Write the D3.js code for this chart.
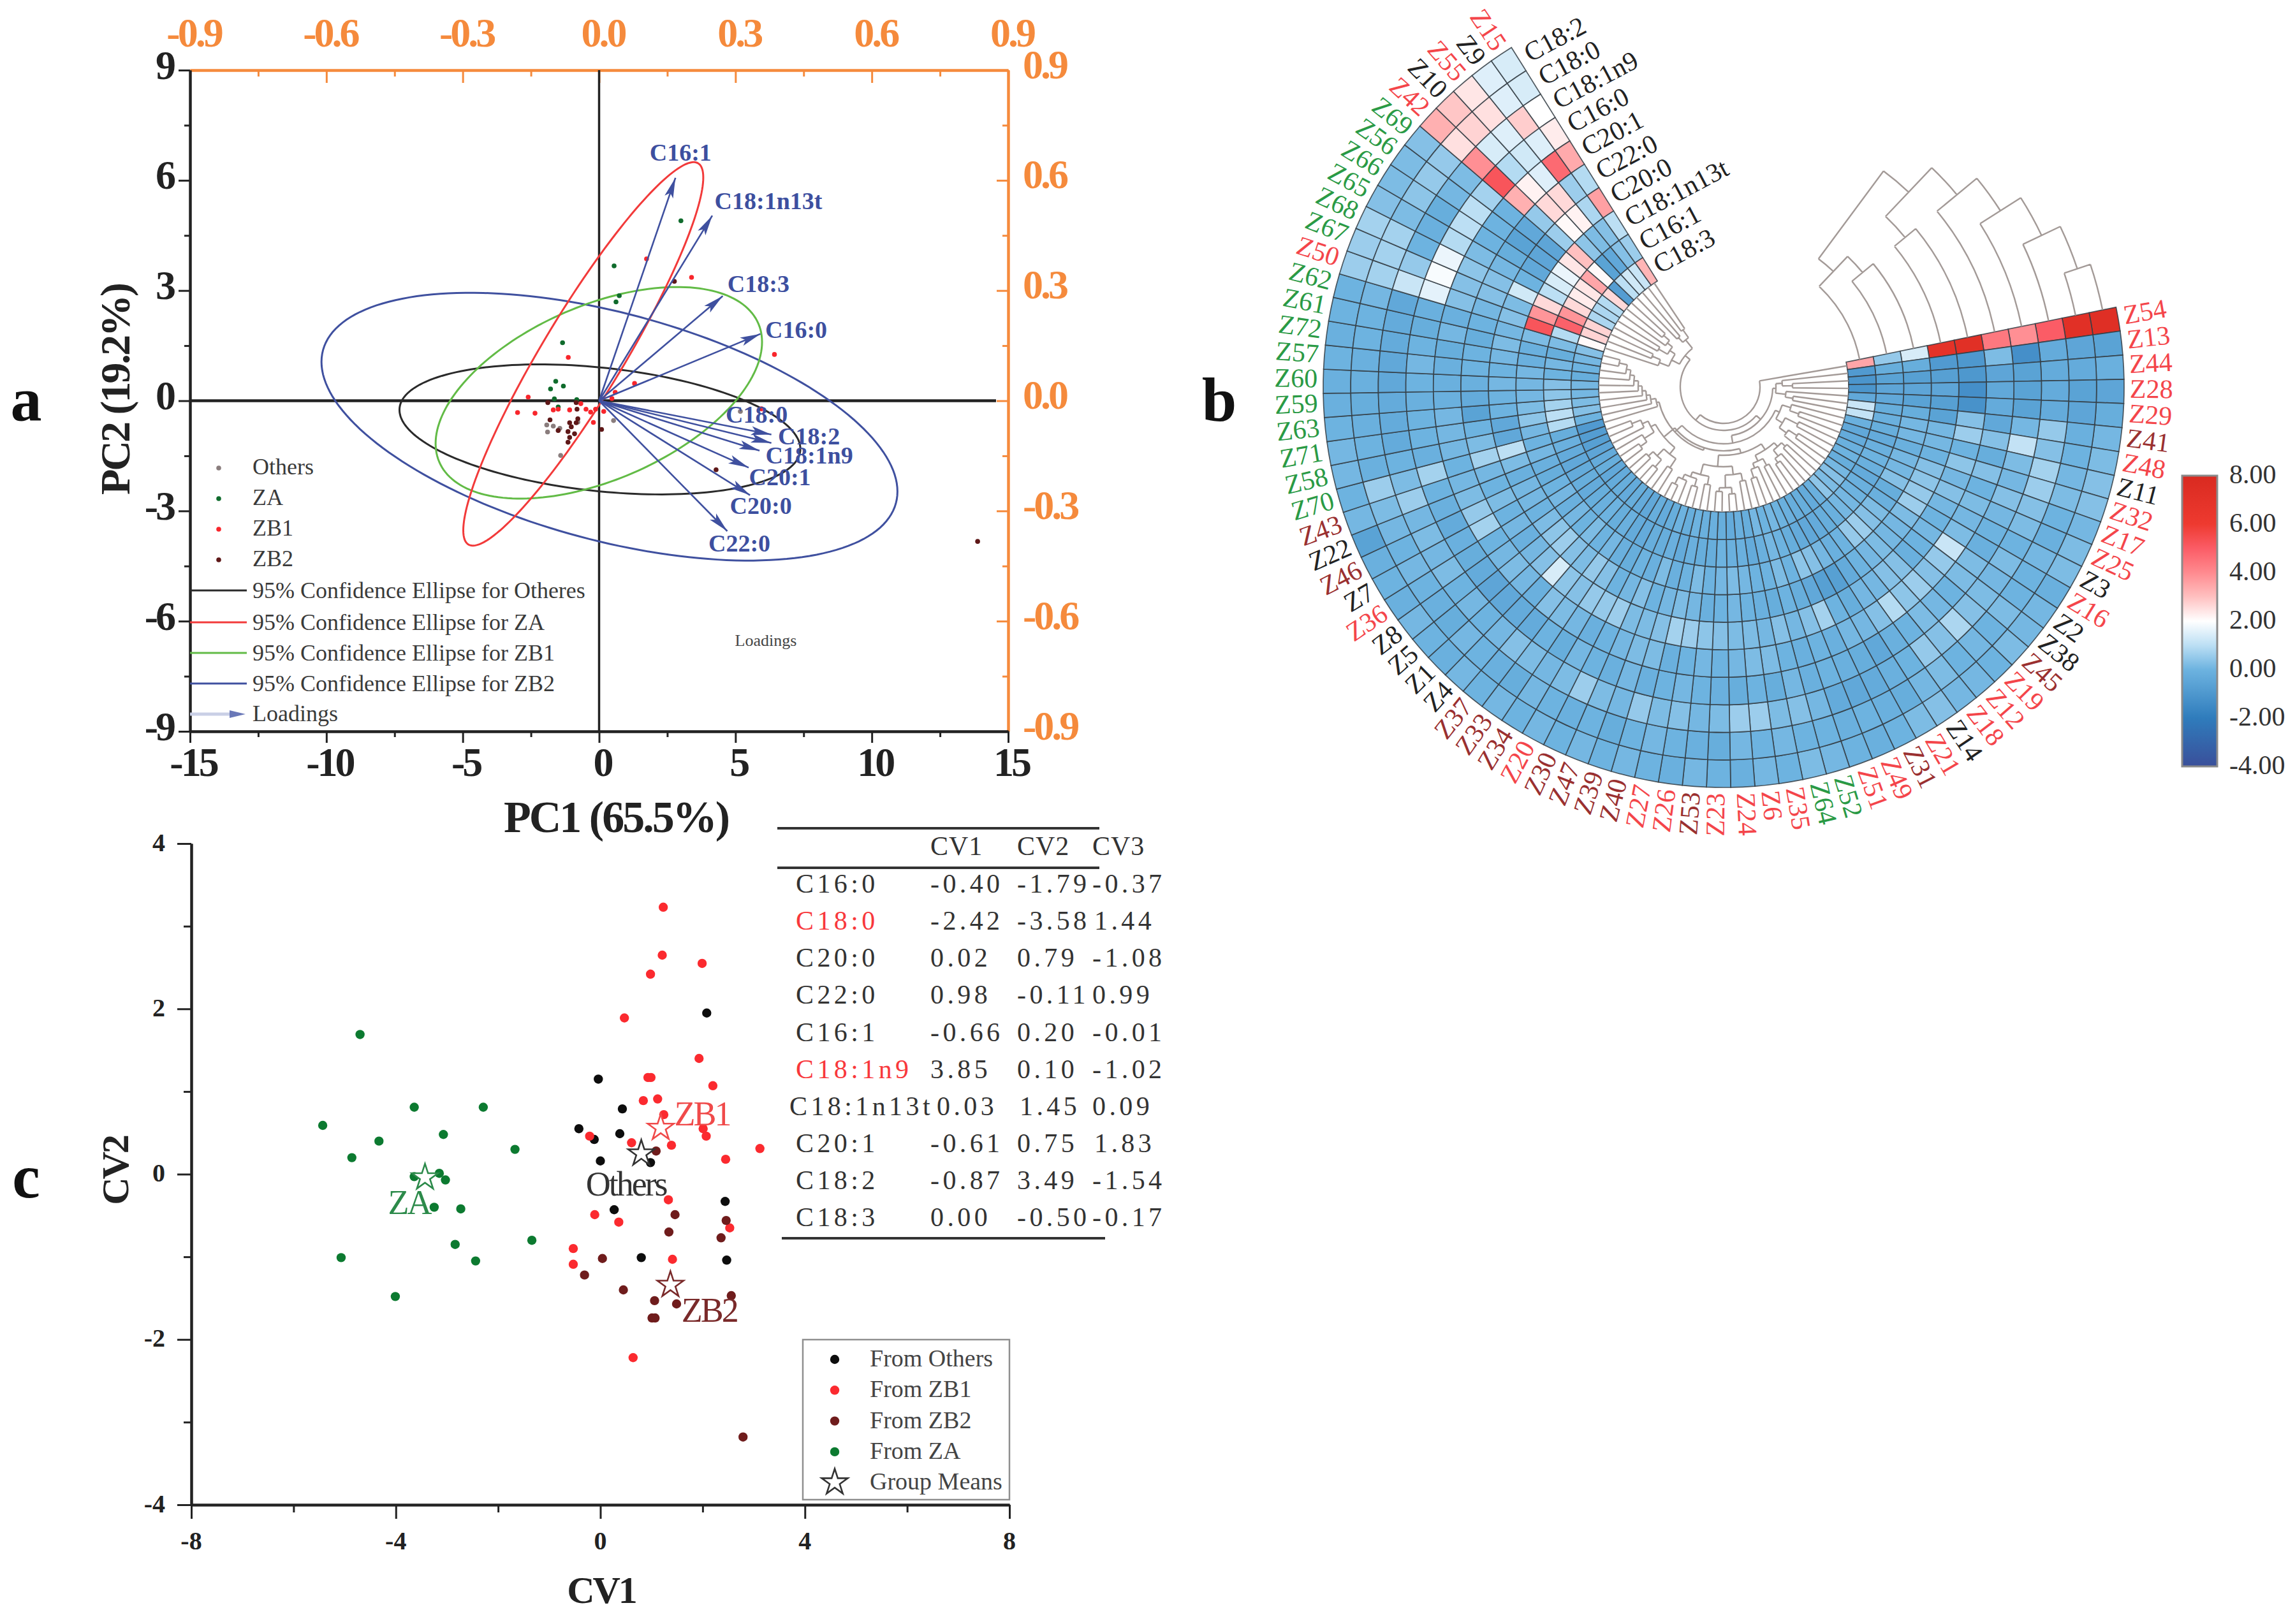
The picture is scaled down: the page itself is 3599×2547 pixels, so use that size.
<!DOCTYPE html>
<html><head><meta charset="utf-8">
<script src="https://cdn.jsdelivr.net/npm/d3@7"></script>
<style>
html,body{margin:0;padding:0;background:#fff}
svg{display:block}
text{font-family:"Liberation Serif",serif}
</style></head><body>
<svg id="chart" width="3599" height="2547" viewBox="0 0 3599 2547"></svg>
<script>
// ---------- Panel a data ----------
const pcaOthers=[[-1.92,-.66],[-1.89,-.85],[-1.68,-.69],[-1.44,-.75],[-.78,-.58],[-1.41,-1.49],[.53,-.54],[5.18,-.29]];
const pcaZA=[[.74,2.86],[.62,2.69],[-1.34,1.58],[-1.59,.53],[-1.31,.40],[-1.78,.32],[-1.64,.05],[-1.50,-.17],[-.82,.03],[3.0,4.90],[.55,3.67]];
const pcaZB1=[[-1.13,1.18],[1.30,.47],[-2.60,.10],[-2.99,-.32],[-2.35,-.34],[-1.68,-.25],[-1.50,-.23],[-1.08,-.25],[6.43,1.26],[1.74,3.86],[3.39,3.36],[5.95,-.22],[-.21,-.59],[-.67,-.08],[-.48,-.23],[-.31,-.31],[-.13,-.23],[.17,-.29],[.47,.06],[.59,.23]];
const pcaZB2=[[4.29,-1.88],[13.88,-3.83],[2.76,3.25],[-1.80,-.52],[-1.50,-.81],[-1.08,-.60],[-.78,-.49],[-.84,-.60],[-1.02,-.71],[-1.14,-.84],[-.90,-.90],[-1.08,-1.0],[-1.14,-1.13],[.09,-.78],[-.81,-.23],[-.84,-.05],[-1.88,-.05]];
// confidence ellipses: centre x, centre y, half extent x, half extent y, correlation
const ellipseOthers=[.03,-.78,7.35,1.77,-.30];
const ellipseZA=[-.58,1.275,4.40,5.22,.92];
const ellipseZB1=[-.01,.216,5.985,2.88,.48];
const ellipseZB2=[.38,-.706,10.56,3.645,-.484];
const loadingNames=["C16:1","C18:1n13t","C18:3","C16:0","C18:0","C18:2","C18:1n9","C20:1","C20:0","C22:0"];
const loadingX=[.168,.249,.272,.355,.379,.379,.353,.329,.332,.282];
const loadingY=[.607,.504,.285,.182,-.092,-.115,-.136,-.182,-.257,-.355];
const pcaXTicks=[-15,-10,-5,0,5,10,15];
const pcaYTicks=[-9,-6,-3,0,3,6,9];
const loadTicks=[-.9,-.6,-.3,0,.3,.6,.9];
// ---------- Panel c data ----------
const cvaZA=[[-4.70,1.69],[-5.43,.59],[-4.33,.40],[-4.86,.20],[-3.64,.81],[-3.07,.48],[-2.29,.81],[-1.67,.30],[-3.64,-.03],[-3.15,.01],[-3.03,-.07],[-3.25,-.40],[-2.73,-.42],[-2.84,-.85],[-2.44,-1.05],[-1.34,-.80],[-5.07,-1.01],[-4.01,-1.48]];
const cvaOthers=[[2.08,1.95],[-.04,1.15],[.43,.79],[-.42,.55],[-.12,.42],[.38,.49],[0,.16],[.98,.14],[2.44,-.33],[.27,-.43],[.80,-1.01],[2.47,-1.04]];
const cvaZB1=[[1.23,3.23],[1.21,2.65],[1.99,2.55],[.98,2.42],[.47,1.89],[1.93,1.40],[.93,1.17],[.99,1.17],[2.20,1.07],[.84,.89],[1.12,.91],[1.24,.72],[-.21,.46],[.61,.38],[2.01,.55],[2.07,.46],[1.39,.35],[2.45,.18],[3.12,.31],[1.33,-.31],[-.11,-.49],[.36,-.58],[2.53,-.65],[-.53,-.90],[-.53,-1.09],[1.41,-1.03],[.64,-2.22]];
const cvaZB2=[[1.09,.28],[1.46,-.49],[2.46,-.56],[1.34,-.70],[2.36,-.77],[.04,-1.02],[-.31,-1.22],[.45,-1.40],[1.06,-1.53],[1.49,-1.57],[2.56,-1.47],[1.01,-1.74],[1.07,-1.74],[2.79,-3.18]];
const groupMeans=[["ZA",-3.43,-.04],["Others",.80,.25],["ZB1",1.18,.56],["ZB2",1.37,-1.34]];
const cvXTicks=[-8,-4,0,4,8];
const cvYTicks=[-4,-2,0,2,4];
const tableHead=["CV1","CV2","CV3"];
const tableRows=["C16:0","C18:0","C20:0","C22:0","C16:1","C18:1n9","C18:1n13t","C20:1","C18:2","C18:3"];
const tableCV1=["-0.40","-2.42","0.02","0.98","-0.66","3.85","0.03","-0.61","-0.87","0.00"];
const tableCV2=["-1.79","-3.58","0.79","-0.11","0.20","0.10","1.45","0.75","3.49","-0.50"];
const tableCV3=["-0.37","1.44","-1.08","0.99","-0.01","-1.02","0.09","1.83","-1.54","-0.17"];
const tableRed=["C18:0","C18:1n9"];
// ---------- Panel b data ----------
const rings=["C18:2","C18:0","C18:1n9","C16:0","C20:1","C22:0","C20:0","C18:1n13t","C16:1","C18:3"];
const samples=["Z54","Z13","Z44","Z28","Z29","Z41","Z48","Z11","Z32","Z17","Z25","Z3","Z16","Z2","Z38","Z45","Z19","Z12","Z18","Z14","Z21","Z31","Z49","Z51","Z52","Z64","Z35","Z6","Z24","Z23","Z53","Z26","Z27","Z40","Z39","Z47","Z30","Z20","Z34","Z33","Z37","Z4","Z1","Z5","Z8","Z36","Z7","Z46","Z22","Z43","Z70","Z58","Z71","Z63","Z59","Z60","Z57","Z72","Z61","Z62","Z50","Z67","Z68","Z65","Z66","Z56","Z69","Z42","Z10","Z55","Z9","Z15"];
const sampleGroupZA=["Z52","Z64","Z70","Z58","Z71","Z63","Z59","Z60","Z57","Z72","Z61","Z62","Z67","Z68","Z65","Z66","Z56","Z69"];
const sampleGroupZB2=["Z41","Z45","Z31","Z53","Z40","Z39","Z47","Z30","Z34","Z33","Z37","Z43","Z46"];
const sampleGroupOthers=["Z11","Z3","Z2","Z38","Z14","Z4","Z1","Z5","Z8","Z7","Z22","Z10","Z9"];
const heat=[
[7.4,7.2,5.0,3.9,4.4,7.2,7.0,1.4,.5,3.5],
[-.6,-.5,-.3,-1.3,.2,-1.0,-.9,-.2,-.2,-.9],
[-.1,-.3,-.3,-.6,-.5,-1.0,-.7,-.7,-.6,-1.1],
[-.5,-.6,-.3,-.6,-.4,-1.3,-.5,-.5,-.5,-1.1],
[-.2,-.5,-.3,-.6,-.3,-1.2,-.7,-.6,-.4,-.4],
[.1,-.1,.5,.1,-.4,.3,-.6,-.2,-.2,1.2],
[.2,0,.3,1.1,.3,.6,.1,.1,-.1,1.1],
[.3,.1,.7,.2,-.2,0,.1,.1,-.2,-.1],
[.3,.2,.6,.1,.3,.4,0,-.1,-.3,-.4],
[.1,0,.3,.3,0,.1,.3,.1,-.1,-.3],
[.2,-.1,.2,.1,.2,.3,.4,.1,0,-.1],
[.2,.1,0,0,.1,.1,.5,.3,-.1,0],
[-.1,0,.2,-.1,.2,0,.6,-.2,-.3,-.2],
[.1,0,.1,.2,1.2,.1,.2,-.1,-.1,.1],
[.1,.2,.2,.2,.5,0,.1,.2,0,.3],
[.2,0,.3,0,.3,-.1,.1,.3,.1,.2],
[0,.1,.8,.1,.6,.3,.2,.6,.1,.4],
[.1,0,.3,.2,.4,.3,.1,.5,-.1,-.1],
[.1,.2,.5,0,.9,.1,0,0,-.2,-.3],
[.3,.1,0,-.1,.3,.1,-.3,-.1,-.3,-.2],
[.2,-.2,-.1,-.4,.1,-.2,-.7,.1,-.4,-.2],
[0,-.1,-.3,-.2,.1,0,-.7,.3,-.3,-.1],
[-.1,0,-.4,-.1,-.1,.7,-.4,.4,-.2,0],
[0,-.1,-.3,0,0,.3,-.2,0,0,.1],
[.1,0,.1,-.1,-.1,.1,0,.2,.1,0],
[.2,0,.3,.1,0,.3,-.2,0,-.1,.1],
[0,.1,.2,-.2,.2,.1,-.1,0,-.3,-.2],
[.1,0,.6,0,.2,.2,0,.1,-.1,-.1],
[-.1,.1,.6,-.2,.1,.2,.1,.2,-.1,-.3],
[0,-.2,.2,-.1,0,.3,0,.1,0,-.2],
[.1,-.1,.1,0,.1,.4,-.1,0,-.2,-.1],
[-.1,0,.3,.1,0,.6,.1,.2,-.2,-.1],
[0,.1,.2,0,-.1,.7,.2,0,-.1,0],
[.1,0,.5,-.1,.2,.3,.1,-.1,-.3,-.2],
[0,-.2,.1,.1,.2,.2,0,.2,-.1,0],
[.1,0,.2,-.1,.1,.2,.3,-.1,-.2,-.2],
[0,-.1,.6,0,0,.6,.1,0,-.2,-.3],
[.1,0,.2,.1,-.1,.5,0,-.2,-.3,-.2],
[0,.1,.1,-.2,.1,.5,.3,-.1,-.3,-.4],
[.1,-.2,.2,0,.2,.3,.5,.1,-.1,-.3],
[0,-.1,.3,-.3,.3,.4,.2,0,-.2,-.2],
[.1,0,.1,-.3,-.1,1.4,.3,.2,0,-.3],
[-.1,.1,0,-.4,.1,.3,.6,0,-.1,-.2],
[0,-.2,.1,-.5,.2,.1,.4,.1,-.2,-.3],
[.1,-.1,0,-.3,.1,-.1,.2,-.1,-.3,-.4],
[-.1,0,.2,-.2,0,.1,0,.1,-.2,-.2],
[0,.1,.1,-.1,.7,0,.1,0,-.3,-.3],
[-.1,0,.2,-.3,.5,.2,.1,-.2,-.4,-.5],
[-.6,.1,.1,-.1,.2,0,-.1,-.1,-.3,-.7],
[.1,.2,.6,0,.1,.1,.2,.1,-.1,-.8],
[0,.6,.2,.7,0,.7,1.0,0,-.2,-.9],
[.1,-.1,0,-.1,.1,.2,-.4,.1,.9,0],
[.1,0,-.3,0,.1,0,-.4,.4,1.0,.3],
[0,-.1,-.3,0,.1,-.6,0,.2,.7,.2],
[-.1,-.2,-.3,-.1,-.1,-.3,0,.1,.4,.1],
[-.1,-.1,-.4,0,-.1,-.1,.1,.1,.3,.1],
[0,-.1,-.4,.1,-.1,0,0,.1,0,-.2],
[-.1,0,-.3,0,-.2,0,.1,-.1,.1,0],
[0,0,-.3,-.2,.1,-.2,.2,-.1,-.2,.1],
[0,.1,-.4,-.1,-.1,0,.1,.2,.2,.3],
[.6,.7,1.2,1.6,.3,.1,.3,5.2,.9,2.1],
[.6,.7,.5,1.9,.3,.3,.2,3.8,4.9,2.7],
[.7,.7,0,1.7,.4,.3,1.3,2.6,3.8,2.7],
[.3,.2,-.1,.9,.2,.1,0,1.0,2.6,.8],
[.2,.4,-.2,1.0,0,-.2,-.4,1.4,2.3,.8],
[.2,.5,.1,1.0,0,-.6,-.5,1.7,2.4,.9],
[.3,.5,.2,.7,0,-.4,-.5,2.4,3.5,2.6],
[3.3,2.5,3.9,5.2,3.3,.5,.6,3.0,2.1,-.8],
[2.9,2.7,1.4,.9,2.2,2.6,2.1,.4,-.6,1.0],
[2.4,2.5,1.5,1.3,1.5,2.6,2.2,.2,-.4,1.3],
[1.5,1.5,2.8,1.5,4.7,.6,.8,.3,.3,1.2],
[1.4,1.4,2.0,2.3,3.4,.9,3.6,1.0,.6,3.2]];
// nested row tree: [merge radius, child, child]; a number is a sample index
const rowLadder=[108,50,[116,51,[122,52,[128,53,[134,54,[141,55,[148,56,[155,57,[168,58,59]]]]]]]]];
const rowTree=[57,0,[68,[77,[82,[92,1,[108,2,3]],[98,4,[110,5,6]]],[89,[96,[110,7,[125,8,9]],[108,[130,10,11],[122,[138,12,13],14]]],[104,rowLadder,[100,[107,[118,[126,[134,15,16],[138,17,[146,18,19]]],[128,[140,20,21],[136,22,[150,23,24]]]],[125,[138,[150,25,26],[158,[168,27,28],[164,29,30]]],[142,[155,31,32],[150,[162,33,34],[158,35,[170,36,37]]]]]],[122,[135,[152,38,39],[150,[165,40,41],[160,42,43]]],[130,[148,[160,44,45],46],[140,47,[155,48,49]]]]]]]],[78,[92,[108,60,[122,61,62]],[102,[118,63,64],[112,65,[124,66,67]]]],[95,[105,68,69],[110,70,71]]]]];
// nested column tree: [merge height, child, child]; a string is a ring name
const colTree=[42,[35,"C18:3",[28,"C16:1","C18:1n13t"]],[35,[28,"C20:0","C22:0"],[28,"C20:1",[21,"C16:0",[14,"C18:1n9",[7,"C18:0","C18:2"]]]]]];
const colorStops=[-4,-2,0,1,2,3,4,5,6,8];
const colorValues=["#3a4f9a","#2f7cbc","#6db3e0","#bcdff4","#ffffff","#ffc0c0","#ff8a8f","#fb5c66","#ee3a30","#d92a20"];
const colorbarTicks=[8,6,4,2,0,-2,-4];

// ---------- Layout & style ----------
const ORANGE="#f58a3c",BLUE="#3f509f";
const colOthers="#8a7d7d",colZA="#0f6b2c",colRed="#f8262c",colBrown="#5e1818";
const svg=d3.select("#chart");
const defs=svg.append("defs");
defs.append("marker").attr("id","ah").attr("markerUnits","userSpaceOnUse").attr("markerWidth",40).attr("markerHeight",20)
 .attr("viewBox","-36 -10 40 20").attr("refX",0).attr("refY",0).attr("orient","auto")
 .append("path").attr("d","M0,0L-32,-7L-25,0L-32,7Z").attr("fill",BLUE);
const addText=(g,x,y,str,o={})=>g.append("text").attr("x",x).attr("y",y).attr("dy",(o.base?0:.06)*(o.size||36)).text(str)
 .attr("font-size",o.size||36).attr("fill",o.fill||"#333").attr("font-weight",o.weight||"normal")
 .attr("text-anchor",o.anchor||"start").attr("dominant-baseline",o.base||"middle")
 .attr("letter-spacing",o.ls||0).attr("transform",o.rot!=null?`rotate(${o.rot} ${x} ${y})`:null);

// ---------- Panel a ----------
const A=svg.append("g");
const ax=d3.scaleLinear([-15,15],[298,1581]),ay=d3.scaleLinear([-9,9],[1147,110]);
const lx=d3.scaleLinear([-.9,.9],[298,1581]),ly=d3.scaleLinear([-.9,.9],[1147,110]);
const axisStyle=(g,color,w)=>{g.selectAll(".domain").attr("stroke",color).attr("stroke-width",w);g.selectAll(".tick line").attr("stroke",color).attr("stroke-width",3);g.selectAll("text").remove();};
const halves=t=>d3.pairs(t).map(([a,b])=>(a+b)/2);
function makeAxis(g,maker,scale,ticks,major,minor,color,w,tr){
 g.append("g").attr("transform",tr).call(maker(scale).tickValues(ticks).tickSize(major).tickSizeOuter(0)).call(axisStyle,color,w);
 g.append("g").attr("transform",tr).call(maker(scale).tickValues(halves(ticks)).tickSize(minor).tickSizeOuter(0)).call(axisStyle,color,w);
}
makeAxis(A,d3.axisTop,lx,loadTicks,-20,-10,ORANGE,4,"translate(0,110)");
makeAxis(A,d3.axisRight,ly,loadTicks,-18,-9,ORANGE,4,"translate(1581,0)");
makeAxis(A,d3.axisLeft,ay,pcaYTicks,18,9,"#222",4,"translate(298,0)");
makeAxis(A,d3.axisBottom,ax,pcaXTicks,18,9,"#222",4,"translate(0,1147)");
A.append("line").attr("x1",ax(-15)).attr("x2",1562).attr("y1",ay(0)).attr("y2",ay(0)).attr("stroke","#222").attr("stroke-width",4.5);
A.append("line").attr("x1",ax(0)).attr("x2",ax(0)).attr("y1",ay(9)).attr("y2",ay(-9)).attr("stroke","#222").attr("stroke-width",3.5);
const TICK={size:64,weight:"bold",ls:-4};
pcaYTicks.forEach(v=>addText(A,272,ay(v)-5,String(v),{...TICK,fill:"#222",anchor:"end"}));
pcaXTicks.forEach(v=>addText(A,ax(v)+5,1198,String(v),{...TICK,fill:"#222",anchor:"middle"}));
loadTicks.forEach(v=>addText(A,lx(v)+6,54,v.toFixed(1),{...TICK,fill:ORANGE,anchor:"middle"}));
loadTicks.forEach(v=>addText(A,1604,ly(v)-6,v.toFixed(1),{...TICK,fill:ORANGE}));
addText(A,966,1285,"PC1 (65.5%)",{size:70,weight:"bold",anchor:"middle",ls:-3,fill:"#222"});
addText(A,184,611,"PC2 (19.2%)",{size:66,weight:"bold",anchor:"middle",ls:-3,fill:"#222",rot:-90});
addText(A,41,659,"a",{size:98,weight:"bold",fill:"#111",base:"auto",anchor:"middle"});
const ellipseLine=d3.line().x(d=>ax(d[0])).y(d=>ay(d[1])).curve(d3.curveLinearClosed);
const ellipsePts=([cx,cy,sx,sy,rho])=>d3.range(0,360,2).map(t=>{const a=t*Math.PI/180;return [cx+sx*Math.cos(a),cy+sy*(rho*Math.cos(a)+Math.sqrt(1-rho*rho)*Math.sin(a))];});
[[ellipseOthers,"#2a2a2a"],[ellipseZB2,"#3f509f"],[ellipseZB1,"#62bb46"],[ellipseZA,"#f23a3a"]].forEach(([e,c])=>
 A.append("path").attr("d",ellipseLine(ellipsePts(e))).attr("fill","none").attr("stroke",c).attr("stroke-width",3));
[[pcaOthers,colOthers],[pcaZA,colZA],[pcaZB1,colRed],[pcaZB2,colBrown]].forEach(([p,c])=>
 A.append("g").selectAll("circle").data(p).join("circle").attr("cx",d=>ax(d[0])).attr("cy",d=>ay(d[1])).attr("r",3.8).attr("fill",c));
A.append("g").selectAll("line").data(loadingNames).join("line")
 .attr("x1",lx(0)).attr("y1",ly(0)).attr("x2",(d,i)=>lx(loadingX[i])).attr("y2",(d,i)=>ly(loadingY[i]))
 .attr("stroke",BLUE).attr("stroke-width",2.6).attr("marker-end","url(#ah)");
const loadingLabelDX=[8,88,56,56,-23,59,78,49,17,19],loadingLabelDY=[-38,-21,-17,-5,-30,-9,9,17,18,21];
loadingNames.forEach((n,i)=>addText(A,lx(loadingX[i])+loadingLabelDX[i],ly(loadingY[i])+loadingLabelDY[i],n,{size:38,weight:"bold",fill:"#3d4f9f",anchor:"middle"}));
addText(A,1201,1005,"Loadings",{size:26,fill:"#444",anchor:"middle"});
[["Others",colOthers],["ZA",colZA],["ZB1",colRed],["ZB2",colBrown]].forEach(([n,c],i)=>{
 const y=[734,782,830,878][i];
 A.append("circle").attr("cx",343).attr("cy",y).attr("r",3.8).attr("fill",c);
 addText(A,396,y,n,{size:36,fill:"#3a3a3a"});
});
[["95% Confidence Ellipse for Otheres","#2a2a2a"],["95% Confidence Ellipse for ZA","#f23a3a"],["95% Confidence Ellipse for ZB1","#62bb46"],["95% Confidence Ellipse for ZB2","#3f509f"]].forEach(([n,c],i)=>{
 const y=[926,976,1024,1072][i];
 A.append("line").attr("x1",298).attr("x2",387).attr("y1",y).attr("y2",y).attr("stroke",c).attr("stroke-width",3);
 addText(A,396,y+2,n,{size:36,fill:"#3a3a3a"});
});
A.append("line").attr("x1",298).attr("x2",362).attr("y1",1120).attr("y2",1120).attr("stroke","#c9cfe6").attr("stroke-width",5);
A.append("path").attr("d","M385,1120L360,1114L360,1126Z").attr("fill","#6a78b8");
addText(A,396,1121,"Loadings",{size:36,fill:"#3a3a3a"});

// ---------- Panel c ----------
const C=svg.append("g");
const cx=d3.scaleLinear([-8,8],[300,1583]),cy=d3.scaleLinear([-4,4],[2360,1323]);
makeAxis(C,d3.axisLeft,cy,cvYTicks,22,12,"#222",4,"translate(300,0)");
makeAxis(C,d3.axisBottom,cx,cvXTicks,22,12,"#222",4,"translate(0,2360)");
cvYTicks.forEach(v=>addText(C,259,cy(v),String(v),{size:40,weight:"bold",fill:"#222",anchor:"end"}));
cvXTicks.forEach(v=>addText(C,cx(v),2418,String(v),{size:40,weight:"bold",fill:"#222",anchor:"middle"}));
addText(C,943,2497,"CV1",{size:60,weight:"bold",anchor:"middle",ls:-3,fill:"#222"});
addText(C,184,1836,"CV2",{size:60,weight:"bold",anchor:"middle",ls:-3,fill:"#222",rot:-90});
addText(C,41,1878,"c",{size:98,weight:"bold",fill:"#111",base:"auto",anchor:"middle"});
const cvBlack="#0d0d0d",cvRed="#fb2a2f",cvBrown="#6f1c1c",cvGreen="#0c7a30";
[[cvaOthers,cvBlack],[cvaZB1,cvRed],[cvaZB2,cvBrown],[cvaZA,cvGreen]].forEach(([p,c])=>
 C.append("g").selectAll("circle").data(p).join("circle").attr("cx",d=>cx(d[0])).attr("cy",d=>cy(d[1])).attr("r",7.2).attr("fill",c));
const star=d3.symbol(d3.symbolStar,520);
const meanColor={ZA:"#2c8a4a",Others:"#333",ZB1:"#f04a4a",ZB2:"#7a2a2a"};
C.append("g").selectAll("path").data(groupMeans).join("path").attr("d",star)
 .attr("transform",d=>`translate(${cx(d[1])},${cy(d[2])})`).attr("fill","#fff").attr("stroke",d=>meanColor[d[0]]).attr("stroke-width",2.6);
const meanLabelDX={ZA:-25,Others:-24,ZB1:65,ZB2:61},meanLabelDY={ZA:42,Others:50,ZB1:-20,ZB2:42};
groupMeans.forEach(d=>addText(C,cx(d[1])+meanLabelDX[d[0]],cy(d[2])+meanLabelDY[d[0]],d[0],{size:54,ls:-3,anchor:"middle",fill:meanColor[d[0]]}));
C.append("rect").attr("x",1259).attr("y",2101).attr("width",324).attr("height",251).attr("fill","#fff").attr("stroke","#8f8f8f").attr("stroke-width",2.5);
[["From Others",cvBlack],["From ZB1",cvRed],["From ZB2",cvBrown],["From ZA",cvGreen]].forEach(([n,c],i)=>{
 const y=2132+i*48.3;
 C.append("circle").attr("cx",1309).attr("cy",y).attr("r",7.2).attr("fill",c);
 addText(C,1364,y,n,{size:38,fill:"#444"});
});
C.append("path").attr("d",d3.symbol(d3.symbolStar,520)).attr("transform","translate(1309,2325)").attr("fill","#fff").attr("stroke","#333").attr("stroke-width",2.6);
addText(C,1364,2325,"Group Means",{size:38,fill:"#444"});

// ---------- Table ----------
const T=svg.append("g");
[[1219,1724,1299],[1219,1724,1361],[1226,1733,1942]].forEach(([a,b,y])=>T.append("line").attr("x1",a).attr("x2",b).attr("y1",y).attr("y2",y).attr("stroke","#333").attr("stroke-width",4));
const colX=[1459,1595,1713],TS={size:42,ls:5.4,fill:"#333"};
tableHead.forEach((h,i)=>addText(T,colX[i],1329,h,{...TS,ls:1}));
tableRows.forEach((r,i)=>{
 const y=1388+i*58.1;
 addText(T,r==="C18:1n13t"?1238:1248,y,r,{...TS,fill:tableRed.includes(r)?"#f8383c":"#333"});
 addText(T,colX[0]+(r==="C18:1n13t"?10:0),y,tableCV1[i],TS);
 addText(T,colX[1]+(tableCV2[i]==="1.45"?4:0),y,tableCV2[i],TS);
 addText(T,colX[2]+(["1.44","1.83"].includes(tableCV3[i])?3:0),y,tableCV3[i],TS);
});

// ---------- Panel b ----------
const B=svg.append("g").attr("transform","translate(2703,607)");
addText(svg,1912,660,"b",{size:98,weight:"bold",fill:"#111",base:"auto",anchor:"middle"});
const rad=Math.PI/180,startAngle=78.5*rad,endAngle=328*rad,rOuter=628,rInner=196;
const angle=d3.scaleBand(samples,[startAngle,endAngle]);
const radius=d3.scaleBand(rings,[rOuter,rInner]);
const ringMid=r=>radius(r)+radius.bandwidth()/2;
const heatColor=d3.scaleLinear(colorStops,colorValues).clamp(true);
const cells=samples.flatMap((s,i)=>rings.map((r,j)=>({s,r,v:heat[i][j]})));
const arc=d3.arc().startAngle(d=>angle(d.s)).endAngle(d=>angle(d.s)+angle.bandwidth())
 .innerRadius(d=>radius(d.r)).outerRadius(d=>radius(d.r)+radius.bandwidth());
B.append("g").selectAll("path").data(cells).join("path").attr("d",arc).attr("fill",d=>heatColor(d.v))
 .attr("stroke","#343d44").attr("stroke-width",1.7).attr("stroke-opacity",.85);
const pol=(r,a)=>[r*Math.sin(a),-r*Math.cos(a)];
const TREE="#a39a97";
const treePath=d3.path();
const segRadial=(a,r0,r1)=>{treePath.moveTo(...pol(r0,a));treePath.lineTo(...pol(r1,a));};
const segArc=(r,a0,a1)=>{if(a0===a1)return;treePath.moveTo(...pol(r,a0));treePath.arc(0,0,r,a0-Math.PI/2,a1-Math.PI/2,a1<a0);};
function walkRow(n){
 if(typeof n==="number")return{a:angle(samples[n])+angle.bandwidth()/2,r:rInner};
 const [r,p,q]=n,l=walkRow(p),m=walkRow(q);
 segRadial(l.a,l.r,r);segRadial(m.a,m.r,r);segArc(r,l.a,m.a);
 return{a:(l.a+m.a)/2,r};
}
walkRow(rowTree);
function walkCol(n){
 if(typeof n==="string")return{a:startAngle,r:ringMid(n)};
 const [h,p,q]=n,l=walkCol(p),m=walkCol(q),a=startAngle-h*rad;
 segArc(l.r,l.a,a);segArc(m.r,m.a,a);segRadial(a,l.r,m.r);
 return{a,r:(l.r+m.r)/2};
}
walkCol(colTree);
B.append("path").attr("d",treePath.toString()).attr("fill","none").attr("stroke",TREE).attr("stroke-width",2.4);
const sampleColor=s=>sampleGroupZA.includes(s)?"#2a9a45":sampleGroupZB2.includes(s)?"#9a3030":sampleGroupOthers.includes(s)?"#222":"#f4454a";
samples.forEach(s=>{
 const a=angle(s)+angle.bandwidth()/2,deg=a/rad,[x,y]=pol(rOuter+9,a),flip=deg>180;
 B.append("text").attr("transform",`translate(${x},${y}) rotate(${flip?deg+90:deg-90})`).attr("text-anchor",flip?"end":"start")
  .attr("dominant-baseline","middle").attr("font-size",42).attr("fill",sampleColor(s)).text(s);
});
rings.forEach(r=>{
 const [x,y]=pol(ringMid(r),endAngle+.6*rad);
 B.append("text").attr("transform",`translate(${x+8},${y}) rotate(-28)`).attr("dominant-baseline","middle").attr("font-size",42).attr("fill","#222").text(r);
});
// colour bar
const cbY=d3.scaleLinear([-4,8],[1202,746]);
const grad=defs.append("linearGradient").attr("id","cb").attr("x1",0).attr("x2",0).attr("y1",1).attr("y2",0);
colorStops.forEach((v,i)=>grad.append("stop").attr("offset",(v+4)/12).attr("stop-color",colorValues[i]));
svg.append("rect").attr("x",3422).attr("y",cbY(8)).attr("width",55).attr("height",cbY(-4)-cbY(8)).attr("fill","url(#cb)").attr("stroke","#8a8a8a").attr("stroke-width",3);
colorbarTicks.forEach(v=>addText(svg,3496,cbY(v),v.toFixed(2),{size:42,fill:"#333"}));
</script>
</body></html>
